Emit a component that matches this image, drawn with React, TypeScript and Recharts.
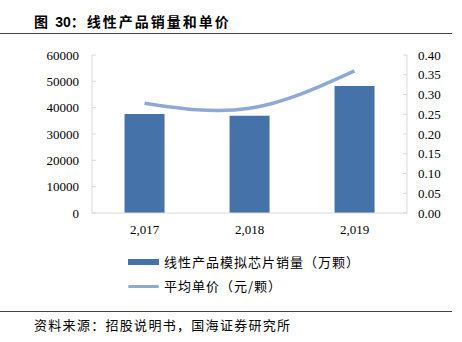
import { ComposedChart, Bar, Line, XAxis, YAxis } from "recharts";

// 数据
const years = ["2,017", "2,018", "2,019"];
const volumes = [37600, 36900, 48200];
const prices = [0.278, 0.265, 0.36];

const leftTicks = [0, 10000, 20000, 30000, 40000, 50000, 60000];
const rightTicks = [0, 0.05, 0.1, 0.15, 0.2, 0.25, 0.3, 0.35, 0.4];

const BAR_COLOR = "#4672AA";
const LINE_COLOR = "#8FA9D6";
const AXIS_COLOR = "#D9D9D9";
const SERIF = "'Liberation Serif', 'Times New Roman', serif";
const CJK = "'Noto Sans CJK SC', sans-serif";

const data = years.map((y, i) => ({ year: y, volume: volumes[i], price: prices[i] }));

export default function App() {
  return (
    <div
      style={{
        position: "absolute",
        left: 0,
        top: 0,
        width: 462,
        height: 342,
        background: "#fff",
        fontFamily: CJK,
        color: "#000",
      }}
    >
      <div
        style={{
          position: "absolute",
          left: 34,
          top: 11,
          fontSize: 14,
          fontWeight: "bold",
          lineHeight: "20px",
          whiteSpace: "nowrap",
          letterSpacing: 2,
        }}
      >
        图 <span style={{ fontFamily: "Arial, 'Liberation Sans', sans-serif", letterSpacing: 0 }}>30</span>：线性产品销量和单价
      </div>
      <div style={{ position: "absolute", left: 0, top: 33, width: 452, height: 1, background: "#444" }} />

      <div style={{ position: "absolute", left: 0, top: 0 }}>
        <ComposedChart
          width={462}
          height={245}
          data={data}
          barCategoryGap="31%"
          margin={{ top: 55, right: 0, left: 0, bottom: 0 }}
        >
          <XAxis
            dataKey="year"
            height={32}
            tickLine={false}
            axisLine={{ stroke: AXIS_COLOR }}
            tick={{ fontSize: 13, fill: "#000", fontFamily: SERIF }}
            tickMargin={6}
          />
          <YAxis
            yAxisId="left"
            width={92}
            domain={[0, 60000]}
            ticks={leftTicks}
            interval={0}
            axisLine={{ stroke: AXIS_COLOR }}
            tickLine={{ stroke: AXIS_COLOR }}
            tickSize={-4}
            tickMargin={17}
            tick={{ fontSize: 13, fill: "#000", fontFamily: SERIF }}
          />
          <YAxis
            yAxisId="right"
            orientation="right"
            width={55}
            domain={[0, 0.4]}
            ticks={rightTicks}
            interval={0}
            axisLine={{ stroke: AXIS_COLOR }}
            tickLine={{ stroke: AXIS_COLOR }}
            tickSize={-4}
            tickMargin={15}
            tickFormatter={(v: number) => v.toFixed(2)}
            tick={{ fontSize: 13, fill: "#000", fontFamily: SERIF }}
          />
          <Bar yAxisId="left" dataKey="volume" fill={BAR_COLOR} isAnimationActive={false} />
          <Line
            yAxisId="right"
            type="natural"
            dataKey="price"
            stroke={LINE_COLOR}
            strokeWidth={3.5}
            dot={false}
            isAnimationActive={false}
          />
        </ComposedChart>
      </div>

      {/* 图例 */}
      <div style={{ position: "absolute", left: 128, top: 252, fontSize: 13, lineHeight: "20px", letterSpacing: 1 }}>
        <div style={{ display: "flex", alignItems: "center", height: 20 }}>
          <div style={{ width: 31, height: 6, background: BAR_COLOR, marginRight: 5 }} />
          <span>线性产品模拟芯片销量（万颗）</span>
        </div>
        <div style={{ display: "flex", alignItems: "center", height: 20, marginTop: 4 }}>
          <div style={{ width: 31, height: 3, background: LINE_COLOR, marginRight: 5, borderRadius: 2 }} />
          <span>平均单价（元/颗）</span>
        </div>
      </div>

      <div style={{ position: "absolute", left: 0, top: 311, width: 452, height: 1, background: "#444" }} />
      <div
        style={{
          position: "absolute",
          left: 34,
          top: 315,
          fontSize: 13,
          lineHeight: "20px",
          whiteSpace: "nowrap",
          letterSpacing: 1.3,
        }}
      >
        资料来源：招股说明书，国海证券研究所
      </div>
    </div>
  );
}
